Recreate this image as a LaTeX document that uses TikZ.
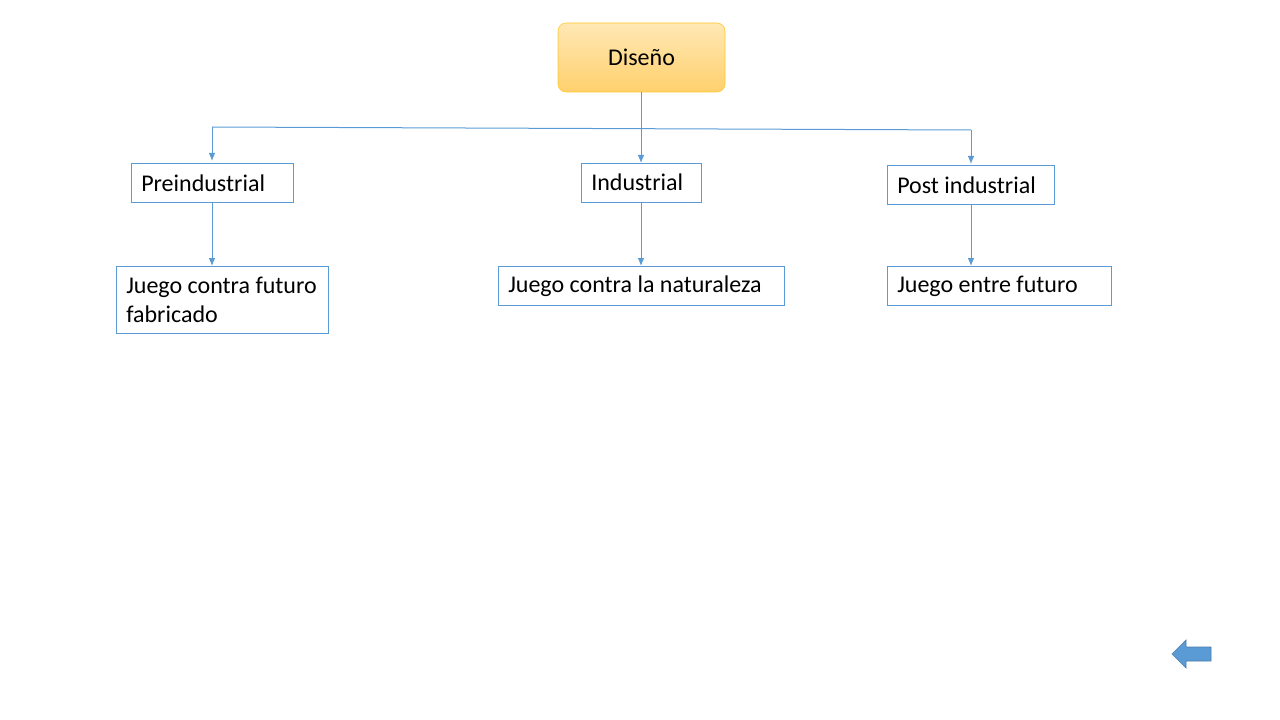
\documentclass[tikz,border=0pt]{standalone}
\usepackage{fontspec}
\setmainfont{Carlito}
\usetikzlibrary{arrows.meta}
\definecolor{bl}{HTML}{5B9BD5}
\begin{document}
\begin{tikzpicture}[x=0.75pt,y=-0.75pt,
  box/.style={draw=bl,line width=0.6pt,fill=white},
  lbl/.style={anchor=west,font=\fontsize{18}{21.5}\selectfont,align=left,inner sep=0pt},
  con/.style={draw=bl,line width=0.75pt,-{Latex[length=6pt,width=5pt]}}]
\useasboundingbox (0,0) rectangle (1280,720);
\shade[top color={rgb,255:red,255;green,232;blue,180},bottom color={rgb,255:red,255;green,208;blue,110},draw={rgb,255:red,255;green,200;blue,40},rounded corners=6pt] (558,23) rectangle (725,92);
\node[font=\fontsize{18}{21}\selectfont] (dis) at (641.5,57.5) {Diseño};
\coordinate (dtop) at (641,92);
\draw[box] (131,163) rectangle (293,202); \node[lbl] (pre) at (141,183) {Preindustrial};
\draw[box] (581,163) rectangle (701,202); \node[lbl] (ind) at (591,182) {Industrial};
\draw[box] (887,165) rectangle (1054,204); \node[lbl] (post) at (897,185) {Post industrial};
\draw[box] (116,266) rectangle (328,333); \node[lbl] (j1) at (126,300) {Juego contra futuro\\fabricado};
\draw[box] (498,266) rectangle (784,305); \node[lbl] (j2) at (508,286) {Juego contra la naturaleza};
\draw[box] (887,266) rectangle (1111,305); \node[lbl] (j3) at (897,286) {Juego entre futuro};
\draw[con] (dtop) -- (641,163);
\draw[bl,line width=0.75pt] (212,127) -- (971,130);
\draw[con] (212,127) -- (212,161);
\draw[con] (971,130) -- (971,164);
\draw[con] (212,202) -- (212,266);
\draw[con] (641,202) -- (641,266);
\draw[con] (971,204) -- (971,266);
\draw[fill=bl,draw=bl!80!black,line width=0.5pt] (1172,654) -- (1186,640) -- (1186,647) -- (1211,647) -- (1211,661) -- (1186,661) -- (1186,668) -- cycle;
\end{tikzpicture}
\end{document}
